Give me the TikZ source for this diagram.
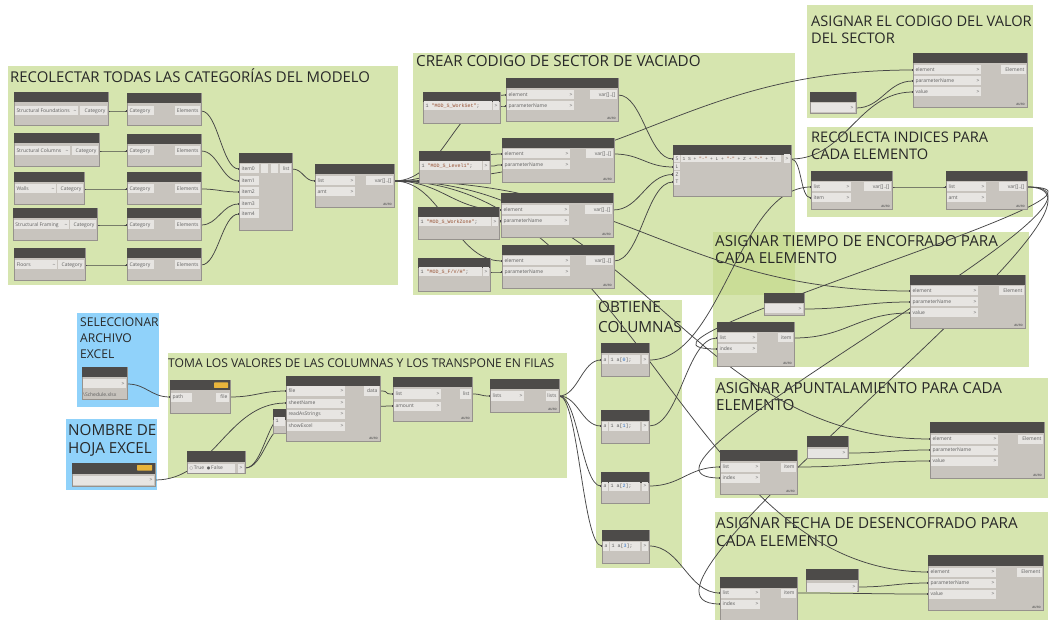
\documentclass[tikz,border=0pt]{standalone}
\usepackage{fontspec}
\setmainfont{Open Sans}
\newfontfamily\codefont{Liberation Mono}
\newfontfamily\symfont{DejaVu Sans}
\usetikzlibrary{calc,arrows.meta}

\definecolor{grpgreen}{RGB}{198,218,142}
\definecolor{grpblue}{RGB}{144,210,250}
\definecolor{nodehead}{RGB}{77,75,73}
\definecolor{nodebody}{RGB}{200,196,190}
\definecolor{portbg}{RGB}{231,229,226}
\definecolor{nodeedge}{RGB}{150,146,141}
\definecolor{porttext}{RGB}{95,95,95}
\definecolor{wirec}{RGB}{70,70,70}
\definecolor{titlec}{RGB}{40,40,40}
\definecolor{strc}{RGB}{150,80,50}
\definecolor{numc}{RGB}{40,110,200}
\definecolor{tagc}{RGB}{232,180,60}

\pgfdeclarelayer{groups}
\pgfdeclarelayer{wires}
\pgfsetlayers{groups,wires,main}

\newcommand\nf{\fontsize{5}{6}\selectfont}
\newcommand\ttlbig{\fontsize{15.2}{17}\selectfont}
\newcommand\ttlsmall{\fontsize{12.1}{14}\selectfont}

\tikzset{
  grpbox/.style={fill=grpgreen, fill opacity=0.7},
  bluebox/.style={fill=grpblue},
  ttl/.style={font=\ttlbig, text=titlec, inner sep=0pt, anchor=base west},
  ttls/.style={ttl, font=\ttlsmall},
  ttlsz/.style={ttl, font=\fontsize{#1}{17}\selectfont},
  dbox/.style={draw=nodeedge, line width=0.4pt, fill=nodebody, inner sep=0pt, outer sep=0pt, anchor=north west},
  dhead/.style={fill=nodehead},
  port/.style={fill=portbg, inner xsep=1.5pt, inner ysep=0pt, outer sep=0pt, minimum height=9pt, font=\nf, text=porttext},
  code/.style={port, font=\nf\codefont},
  autot/.style={font=\fontsize{3}{3}\selectfont\bfseries, text=porttext, inner sep=0pt, anchor=south east},
  tag/.style={fill=tagc, rounded corners=0.5pt},
  wire/.style={draw=wirec, line width=0.75pt, {Rectangle[length=1.6pt,width=2.4pt]}-{Rectangle[length=1.6pt,width=2.4pt]}},
}

% node body with its dark header: name, x, y (top), width, height
\newcommand\dnode[5]{%
  \node[dbox, minimum width=#4pt, minimum height=#5pt] (#1) at (#2,#3) {};
  \fill[dhead] (#2,#3) rectangle (#2+#4,#3+10.5);
}
% input port with chevron: name, x, y, inner width, label
\newcommand\inp[5]{\node[port, anchor=west] (#1) at (#2,#3) {\makebox[#4pt][l]{#5\hfill>}};}
% input port without chevron
\newcommand\inpx[5]{\node[port, anchor=west] (#1) at (#2,#3) {\makebox[#4pt][l]{#5}};}
% output port: name, right x, y, inner width, label
\newcommand\outp[5]{\node[port, anchor=east] (#1) at (#2,#3) {\makebox[#4pt][r]{#5}};}
% lacing footer
\newcommand\autolbl[1]{\node[autot] (#1-auto) at ([xshift=-2pt,yshift=1.5pt]#1.south east) {AUTO};}
% bezier wire between two ports
\newcommand\wire[2]{\draw[wire] let \p1=(#1), \p2=(#2), \n1={max(12,0.45*abs(\x2-\x1))} in (\p1) .. controls +(\n1,0) and +(-\n1,0) .. (\p2);}

\begin{document}
\begin{tikzpicture}[x=1pt,y=-1pt]
\useasboundingbox (0,0) rectangle (1050,620);

% ---------- groups and their titles ----------
\begin{pgfonlayer}{groups}
\fill[white] (0,0) rectangle (1050,620);
\fill[grpbox] (8,66) rectangle (398,285);
\fill[grpbox] (413,53) rectangle (795,295);
\fill[grpbox] (807,5) rectangle (1033,118);
\fill[grpbox] (807,127) rectangle (1033,217);
\fill[grpbox] (713,232) rectangle (1029,367);
\fill[grpbox] (715,378) rectangle (1048,498);
\fill[grpbox] (715,512) rectangle (1048,625);
\fill[grpbox] (168,353) rectangle (567,478);
\fill[grpbox] (596,300) rectangle (682,568);
\fill[bluebox] (77,313) rectangle (159,407);
\fill[bluebox] (66,419) rectangle (157,490);

\node[ttlsz=14.9] (t1) at (10,83) {RECOLECTAR TODAS LAS CATEGORÍAS DEL MODELO};
\node[ttlsz=15.2] (t2) at (416,67) {CREAR CODIGO DE SECTOR DE VACIADO};
\node[ttlsz=14.6] (t3a) at (811,27) {ASIGNAR EL CODIGO DEL VALOR};
\node[ttlsz=14.6] (t3b) at (811,44) {DEL SECTOR};
\node[ttlsz=14.6] (t4a) at (811,143) {RECOLECTA INDICES PARA};
\node[ttlsz=14.6] (t4b) at (811,160) {CADA ELEMENTO};
\node[ttl] (t5a) at (715,247) {ASIGNAR TIEMPO DE ENCOFRADO PARA};
\node[ttl] (t5b) at (715,264) {CADA ELEMENTO};
\node[ttl] (t6a) at (716,393) {ASIGNAR APUNTALAMIENTO PARA CADA};
\node[ttl] (t6b) at (716,410) {ELEMENTO};
\node[ttl] (t7a) at (716,528) {ASIGNAR FECHA DE DESENCOFRADO PARA};
\node[ttl] (t7b) at (716,546) {CADA ELEMENTO};
\node[ttls] (t8) at (168,367) {TOMA LOS VALORES DE LAS COLUMNAS Y LOS TRANSPONE EN FILAS};
\node[ttls] (t9a) at (80,327) {SELECCIONAR};
\node[ttls] (t9b) at (80,343) {ARCHIVO};
\node[ttls] (t9c) at (80,359) {EXCEL};
\node[ttl] (t10a) at (68,435) {NOMBRE DE};
\node[ttl] (t10b) at (68,453) {HOJA EXCEL};
\node[ttlsz=15.3] (t11a) at (598,313) {OBTIENE};
\node[ttlsz=15.3] (t11b) at (598,333) {COLUMNAS};
\end{pgfonlayer}

% ---------- categories ----------
\dnode{A1}{14}{92}{94}{33}
\node[port,anchor=west] (A1d) at (15,111) {\makebox[60pt][l]{Structural Foundations\hfill\textasciitilde}};
\outp{A1o}{107}{111}{24}{Category}
\dnode{A2}{14}{133}{85}{33}
\node[port,anchor=west] (A2d) at (15,151) {\makebox[52pt][l]{Structural Columns\hfill\textasciitilde}};
\outp{A2o}{98}{151}{23}{Category}
\dnode{A3}{14}{172}{70}{32}
\node[port,anchor=west] (A3d) at (15,189) {\makebox[38pt][l]{Walls\hfill\textasciitilde}};
\outp{A3o}{83}{189}{23}{Category}
\dnode{A4}{13}{208}{84}{32}
\node[port,anchor=west] (A4d) at (14,225) {\makebox[52pt][l]{Structural Framing\hfill\textasciitilde}};
\outp{A4o}{96}{225}{23}{Category}
\dnode{A5}{14}{248}{71}{32}
\node[port,anchor=west] (A5d) at (15,265) {\makebox[39pt][l]{Floors\hfill\textasciitilde}};
\outp{A5o}{84}{265}{23}{Category}

\dnode{B1}{127}{93}{74}{32}
\inpx{B1i}{128}{111}{23}{Category}\outp{B1o}{200}{111}{22}{Elements}
\dnode{B2}{127}{134}{74}{32}
\inpx{B2i}{128}{151}{23}{Category}\outp{B2o}{200}{151}{22}{Elements}
\dnode{B3}{127}{172}{74}{32}
\inpx{B3i}{128}{189}{23}{Category}\outp{B3o}{200}{189}{22}{Elements}
\dnode{B4}{127}{208}{74}{32}
\inpx{B4i}{128}{225}{23}{Category}\outp{B4o}{200}{225}{22}{Elements}
\dnode{B5}{127}{248}{74}{32}
\inpx{B5i}{128}{265}{23}{Category}\outp{B5o}{200}{265}{22}{Elements}

\dnode{C}{239}{153}{53}{77}
\inpx{C0}{240}{169}{16}{item0}
\inpx{C1}{240}{181}{16}{item1}
\inpx{C2}{240}{192}{16}{item2}
\inpx{C3}{240}{204}{16}{item3}
\inpx{C4}{240}{214}{16}{item4}
\fill[portbg] (261,164.5) rectangle (268,173.5);
\fill[portbg] (271,164.5) rectangle (278,173.5);
\outp{Co}{291}{169}{8}{list}

\dnode{D}{315}{164}{79}{43}
\inp{Dl}{316}{181}{36}{list}
\inp{Da}{316}{192}{36}{amt}
\outp{Do}{393}{181}{24}{var[]..[]}
\autolbl{D}

% ---------- sector code ----------
\dnode{E1}{423}{92}{77}{31}
\node[code,anchor=west] (E1c) at (424,106) {\makebox[65pt][l]{1 \textcolor{strc}{"MOD\_S\_WorkSet"};}};
\outp{E1o}{499}{106}{3}{>}
\dnode{E2}{419}{151}{71}{32}
\node[code,anchor=west] (E2c) at (420,166) {\makebox[59pt][l]{1 \textcolor{strc}{"MOD\_S\_Level1"};}};
\outp{E2o}{489}{166}{3}{>}
\dnode{E3}{418}{207}{81}{32}
\node[code,anchor=west] (E3c) at (419,222) {\makebox[69pt][l]{1 \textcolor{strc}{"MOD\_S\_WorkZone"};}};
\outp{E3o}{498}{222}{3}{>}
\dnode{E4}{418}{258}{72}{33}
\node[code,anchor=west] (E4c) at (419,272) {\makebox[60pt][l]{1 \textcolor{strc}{"MOD\_S\_F/V/H"};}};
\outp{E4o}{489}{272}{3}{>}

\dnode{F1}{506}{78}{112}{43}
\inp{F1e}{507}{95}{64}{element}\inp{F1p}{507}{106}{64}{parameterName}
\outp{F1o}{617}{95}{24}{var[]..[]}\autolbl{F1}
\dnode{F2}{502}{138}{112}{44}
\inp{F2e}{503}{154}{64}{element}\inp{F2p}{503}{165}{64}{parameterName}
\outp{F2o}{613}{154}{24}{var[]..[]}\autolbl{F2}
\dnode{F3}{501}{193}{112}{44}
\inp{F3e}{502}{210}{64}{element}\inp{F3p}{502}{221}{64}{parameterName}
\outp{F3o}{612}{210}{24}{var[]..[]}\autolbl{F3}
\dnode{F4}{502}{245}{112}{43}
\inp{F4e}{503}{261}{64}{element}\inp{F4p}{503}{272}{64}{parameterName}
\outp{F4o}{613}{261}{24}{var[]..[]}\autolbl{F4}

\dnode{G}{673}{145}{118}{51}
\node[port,anchor=west,minimum height=7pt] (GS) at (674,159) {\makebox[3pt][l]{S}};
\node[port,anchor=west,minimum height=7pt] (GL) at (674,167) {\makebox[3pt][l]{L}};
\node[port,anchor=west,minimum height=7pt] (GZ) at (674,174.5) {\makebox[3pt][l]{Z}};
\node[port,anchor=west,minimum height=7pt] (GT) at (674,182) {\makebox[3pt][l]{T}};
\node[code,anchor=west,minimum height=7pt,font=\fontsize{4.6}{5}\codefont] (Gc) at (681,159) {\makebox[97pt][l]{1 S + \textcolor{strc}{"-"} + L + \textcolor{strc}{"-"} + Z + \textcolor{strc}{"-"} + T;}};
\outp{Go}{790}{159}{3}{>}

% ---------- sector value ----------
\dnode{H1}{913}{53}{114}{54}
\inp{H1e}{914}{70}{64}{element}\inp{H1p}{914}{81}{64}{parameterName}\inp{H1v}{914}{92}{64}{value}
\outp{H1o}{1026}{70}{22}{Element}\autolbl{H1}
\dnode{I1}{810}{92}{46}{21}
\node[port,anchor=west] (I1b) at (811,108) {\makebox[35pt]{}};
\outp{I1o}{855}{108}{3}{>}

% ---------- indices ----------
\dnode{J1}{811}{171}{81}{38}
\inp{J1l}{812}{187}{36}{list}\inp{J1i}{812}{198}{36}{item}
\outp{J1o}{891}{187}{24}{var[]..[]}\autolbl{J1}
\dnode{J2}{946}{171}{81}{38}
\inp{J2l}{947}{187}{36}{list}\inp{J2a}{947}{198}{36}{amt}
\outp{J2o}{1026}{187}{24}{var[]..[]}\autolbl{J2}

% ---------- formwork time ----------
\dnode{H2}{910}{275}{115}{53}
\inp{H2e}{911}{291}{64}{element}\inp{H2p}{911}{302}{64}{parameterName}\inp{H2v}{911}{313}{64}{value}
\outp{H2o}{1024}{291}{22}{Element}\autolbl{H2}
\dnode{I2}{764}{293}{40}{22}
\node[port,anchor=west] (I2b) at (765,309) {\makebox[29pt]{}};
\outp{I2o}{803}{309}{3}{>}
\dnode{K2}{717}{322}{77}{44}
\inp{K2l}{718}{338}{36}{list}\inp{K2i}{718}{349}{36}{index}
\outp{K2o}{793}{338}{12}{item}\autolbl{K2}

% ---------- shoring ----------
\dnode{H3}{930}{422}{114}{56}
\inp{H3e}{931}{439}{64}{element}\inp{H3p}{931}{450}{64}{parameterName}\inp{H3v}{931}{461}{64}{value}
\outp{H3o}{1043}{439}{22}{Element}\autolbl{H3}
\dnode{I3}{807}{436}{41}{22}
\node[port,anchor=west] (I3b) at (808,453) {\makebox[30pt]{}};
\outp{I3o}{847}{453}{3}{>}
\dnode{K3}{720}{450}{77}{44}
\inp{K3l}{721}{467}{36}{list}\inp{K3i}{721}{478}{36}{index}
\outp{K3o}{796}{467}{12}{item}\autolbl{K3}

% ---------- stripping date ----------
\dnode{H4}{928}{555}{115}{55}
\inp{H4e}{929}{572}{64}{element}\inp{H4p}{929}{583}{64}{parameterName}\inp{H4v}{929}{594}{64}{value}
\outp{H4o}{1042}{572}{22}{Element}\autolbl{H4}
\dnode{I4}{806}{569}{52}{22}
\node[port,anchor=west] (I4b) at (807,587) {\makebox[41pt]{}};
\outp{I4o}{857}{587}{3}{>}
\dnode{K4}{720}{577}{77}{44}
\inp{K4l}{721}{593}{36}{list}\inp{K4i}{721}{604}{36}{index}
\outp{K4o}{796}{593}{12}{item}

% ---------- columns ----------
\dnode{L1}{601}{343}{48}{33}
\inpx{L1a}{602}{360}{3}{a}
\node[code,anchor=west] (L1c) at (609,360) {\makebox[28pt][l]{1 a[\textcolor{numc}{0}];}};
\outp{L1o}{648}{360}{3}{>}
\dnode{L2}{601}{410}{48}{33}
\inpx{L2a}{602}{426}{3}{a}
\node[code,anchor=west] (L2c) at (609,426) {\makebox[28pt][l]{1 a[\textcolor{numc}{1}];}};
\outp{L2o}{648}{426}{3}{>}
\dnode{L3}{601}{472}{48}{31}
\inpx{L3a}{602}{486}{3}{a}
\node[code,anchor=west] (L3c) at (609,486) {\makebox[28pt][l]{1 a[\textcolor{numc}{2}];}};
\outp{L3o}{648}{486}{3}{>}
\dnode{L4}{602}{530}{47}{33}
\inpx{L4a}{603}{546}{3}{a}
\node[code,anchor=west] (L4c) at (610,546) {\makebox[27pt][l]{1 a[\textcolor{numc}{3}];}};
\outp{L4o}{648}{546}{3}{>}

% ---------- excel input ----------
\dnode{M}{82}{367}{45}{32}
\node[port,anchor=west] (Mb) at (83,384) {\makebox[34pt]{}};
\outp{Mo}{126}{384}{3}{>}
\node[font=\nf, text=porttext, anchor=west, inner sep=0pt] (Mf) at (83,395) {\textbackslash Schedule.xlsx};

\dnode{N}{72}{463}{83}{23}
\fill[tag] (137,465) rectangle (152,470.5);
\node[port,anchor=west] (Nb) at (73,480) {\makebox[72pt]{}};
\outp{No}{154}{480}{3}{>}

\dnode{O}{170}{380}{60}{33}
\fill[tag] (214,382.5) rectangle (228,388);
\inpx{Op}{171}{397}{18}{path}
\outp{Oo}{229}{397}{10}{file}

\dnode{P}{187}{451}{58}{22}
\node[port,anchor=west] (Pb) at (188,468) {\makebox[44pt][l]{{\symfont\fontsize{4}{5}\selectfont ○}\,True\ \ {\symfont\fontsize{4}{5}\selectfont ●}\,False}};
\outp{Po}{244}{468}{3}{>}

\dnode{Q}{273}{409}{16}{24}
\node[code,anchor=west] (Qc) at (274,421) {\makebox[8pt][l]{1}};
\coordinate (Qo) at (289,421);

\dnode{R}{286}{376}{94}{65}
\inp{Rf}{287}{391}{55}{file}\inp{Rs}{287}{403}{55}{sheetName}
\inp{Rr}{287}{414}{55}{readAsStrings}\inp{Rx}{287}{426}{55}{showExcel}
\outp{Ro}{379}{391}{12}{data}\autolbl{R}

\dnode{S}{393}{377}{79}{44}
\inp{Sl}{394}{394}{44}{list}\inp{Sa}{394}{406}{44}{amount}
\outp{So}{471}{394}{8}{list}\autolbl{S}

\dnode{Tn}{490}{379}{69}{33}
\inp{Ti}{491}{396}{30}{lists}
\outp{To}{558}{396}{9}{lists}\autolbl{Tn}

% ---------- wires ----------
\begin{pgfonlayer}{wires}
\wire{A1o.east}{B1i.west}\wire{A2o.east}{B2i.west}\wire{A3o.east}{B3i.west}
\wire{A4o.east}{B4i.west}\wire{A5o.east}{B5i.west}
\wire{B1o.east}{C0.west}\wire{B2o.east}{C1.west}\wire{B3o.east}{C2.west}
\wire{B4o.east}{C3.west}\wire{B5o.east}{C4.west}
\wire{Co.east}{Dl.west}
\wire{Do.east}{F1e.west}\wire{Do.east}{F2e.west}\wire{Do.east}{F3e.west}\wire{Do.east}{F4e.west}
\wire{Do.east}{H1e.west}\wire{Do.east}{H2e.west}\wire{Do.east}{H3e.west}\wire{Do.east}{H4e.west}
\wire{E1o.east}{F1p.west}\wire{E2o.east}{F2p.west}\wire{E3o.east}{F3p.west}\wire{E4o.east}{F4p.west}
\wire{F1o.east}{GS.west}\wire{F2o.east}{GL.west}\wire{F3o.east}{GZ.west}\wire{F4o.east}{GT.west}
\wire{Go.east}{H1v.west}\wire{Go.east}{J1i.west}
\wire{I1o.east}{H1p.west}
\wire{L1o.east}{J1l.west}
\wire{J1o.east}{J2l.west}
\wire{J2o.east}{K2i.west}\wire{J2o.east}{K3i.west}\wire{J2o.east}{K4i.west}
\wire{L2o.east}{K2l.west}\wire{L3o.east}{K3l.west}\wire{L4o.east}{K4l.west}
\wire{K2o.east}{H2v.west}\wire{K3o.east}{H3v.west}\wire{K4o.east}{H4v.west}
\wire{I2o.east}{H2p.west}\wire{I3o.east}{H3p.west}\wire{I4o.east}{H4p.west}
\wire{To.east}{L1a.west}\wire{To.east}{L2a.west}\wire{To.east}{L3a.west}\wire{To.east}{L4a.west}
\wire{Mo.east}{Op.west}
\wire{Oo.east}{Rf.west}
\wire{No.east}{Rs.west}
\wire{Po.east}{Rr.west}\wire{Po.east}{Rx.west}
\wire{Qo}{Sa.west}
\wire{Ro.east}{Sl.west}
\wire{So.east}{Ti.west}
\end{pgfonlayer}
\end{tikzpicture}
\end{document}
